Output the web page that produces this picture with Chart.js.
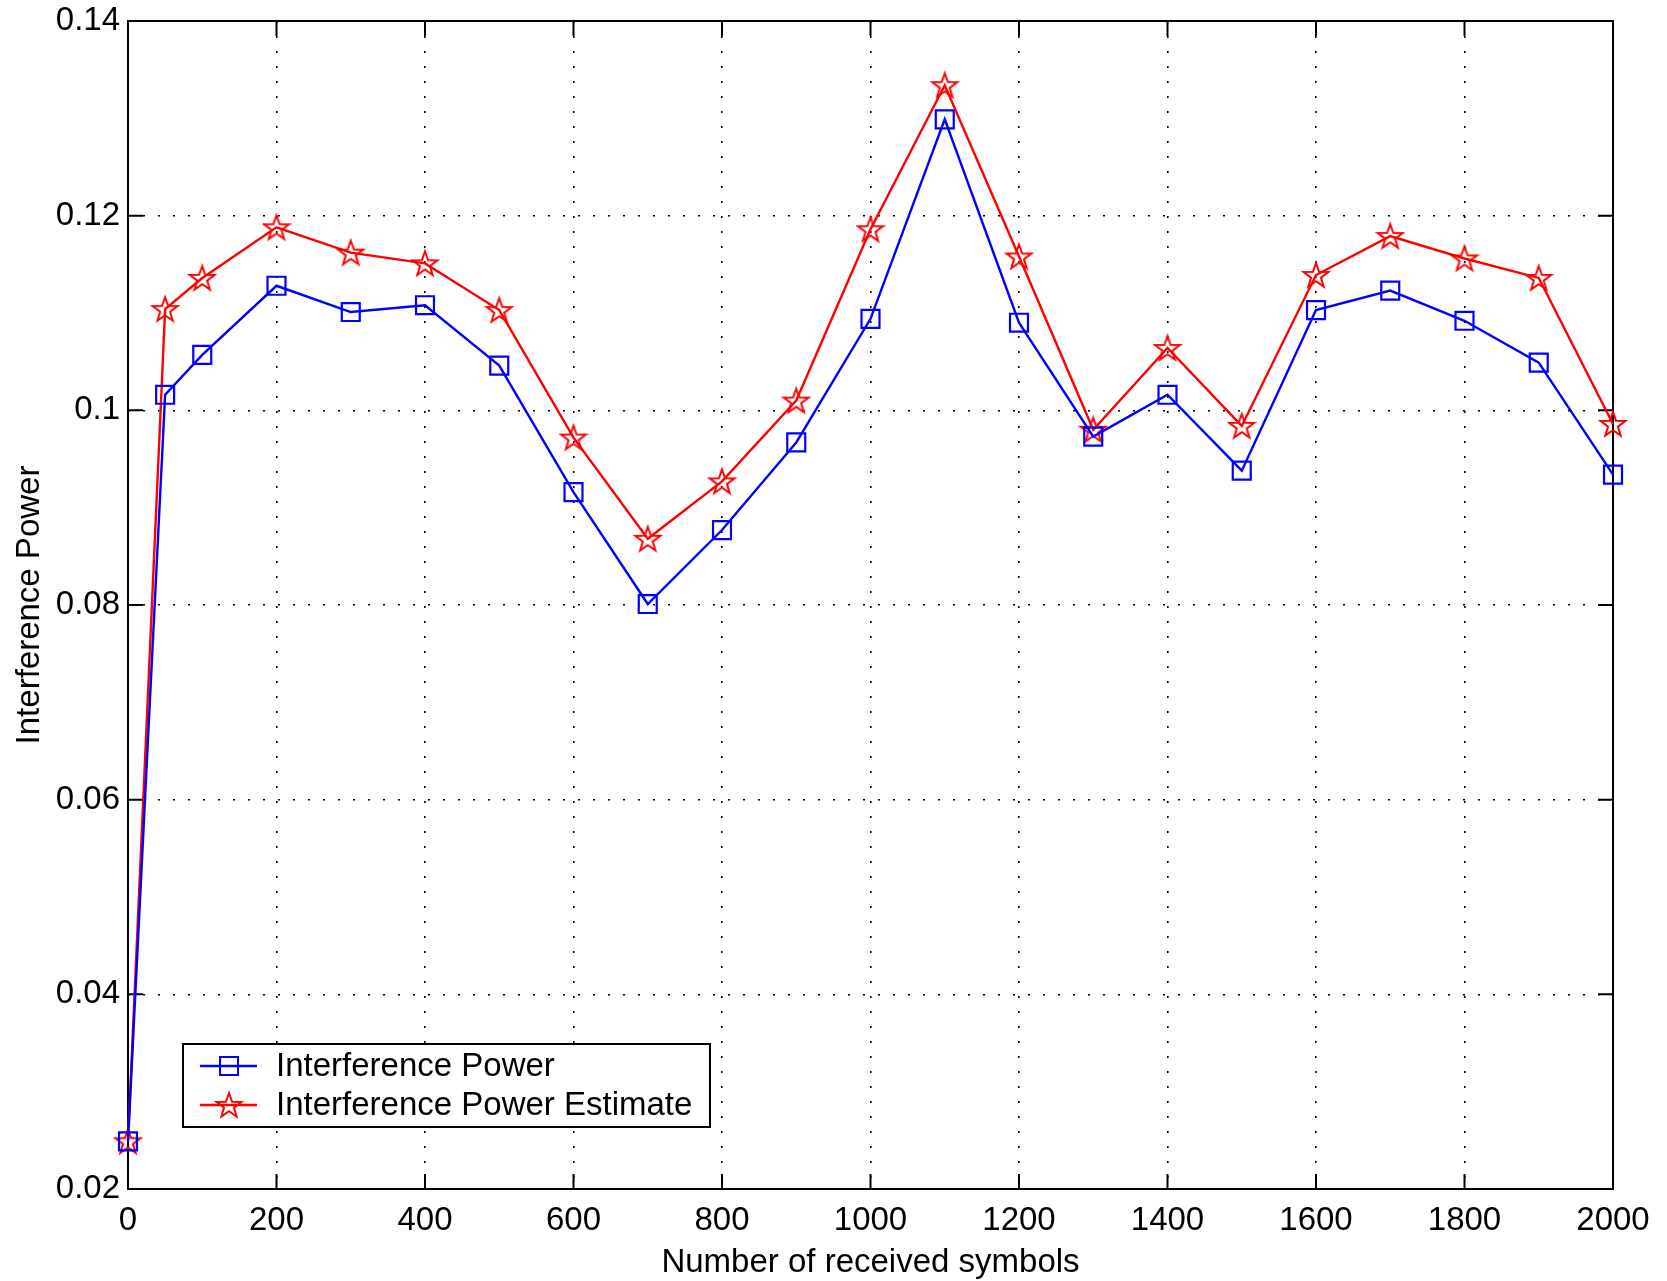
<!DOCTYPE html>
<html>
<head>
<meta charset="utf-8">
<script src="https://cdn.jsdelivr.net/npm/chart.js@4.4.0/dist/chart.umd.min.js"></script>
<style>
  body { margin: 0; background: #fff; }
  #wrap { width: 1667px; height: 1281px; }
</style>
</head>
<body>
<div id="wrap"><canvas id="grafico"></canvas></div>
<script>
// data
const simbolos = [0, 50, 100, 200, 300, 400, 500, 600, 700, 800, 900, 1000, 1100, 1200, 1300, 1400, 1500, 1600, 1700, 1800, 1900, 2000];
const potencia = [0.0249, 0.1016, 0.1057, 0.1128, 0.1101, 0.1108, 0.1046, 0.0916, 0.0801, 0.0877, 0.0967, 0.1094, 0.1299, 0.1090, 0.0973, 0.1016, 0.0938, 0.1103, 0.1123, 0.1092, 0.1049, 0.0934];
const estimativa = [0.0249, 0.1104, 0.1136, 0.1188, 0.1162, 0.1151, 0.1103, 0.0972, 0.0868, 0.0927, 0.1010, 0.1186, 0.1334, 0.1158, 0.0980, 0.1064, 0.0984, 0.1139, 0.1179, 0.1156, 0.1136, 0.0986];
const nomes = ['Interference Power', 'Interference Power Estimate'];
const xTicks = [0, 200, 400, 600, 800, 1000, 1200, 1400, 1600, 1800, 2000];
const yTicks = [0.02, 0.04, 0.06, 0.08, 0.1, 0.12, 0.14];

const FONTE = '"Liberation Sans", Arial, Helvetica, sans-serif';

// pentagram marker like matlab 'p'
function estrela(cor, R) {
  const c = document.createElement('canvas');
  const s = Math.ceil(R * 2 + 4);
  c.width = s; c.height = s;
  const g = c.getContext('2d');
  const r = R * 0.4;
  g.beginPath();
  for (let i = 0; i < 10; i++) {
    const ang = -Math.PI / 2 + i * Math.PI / 5;
    const rr = i % 2 === 0 ? R : r;
    const px = s / 2 + rr * Math.cos(ang), py = s / 2 + rr * Math.sin(ang) + R * 0.08;
    if (i === 0) g.moveTo(px, py); else g.lineTo(px, py);
  }
  g.closePath();
  g.strokeStyle = cor;
  g.lineWidth = 2;
  g.stroke();
  return c;
}
const starImg = estrela('#ff0000', 13);

const moldura = {
  id: 'moldura',
  beforeDatasetsDraw(chart) {
    const { ctx, chartArea: a, scales } = chart;
    ctx.save();
    ctx.strokeStyle = '#000';
    ctx.lineWidth = 2;
    ctx.strokeRect(a.left, a.top, a.right - a.left, a.bottom - a.top);
    const t = 15;
    ctx.beginPath();
    xTicks.forEach(v => {
      const px = scales.x.getPixelForValue(v);
      ctx.moveTo(px, a.bottom); ctx.lineTo(px, a.bottom - t);
      ctx.moveTo(px, a.top); ctx.lineTo(px, a.top + t);
    });
    yTicks.forEach(v => {
      const py = scales.y.getPixelForValue(v);
      ctx.moveTo(a.left, py); ctx.lineTo(a.left + t, py);
      ctx.moveTo(a.right, py); ctx.lineTo(a.right - t, py);
    });
    ctx.stroke();
    ctx.restore();
  },
  afterDraw(chart) {
    const ctx = chart.ctx;
    const bx = 183, by = 1044, bw = 527, bh = 83;
    ctx.save();
    ctx.fillStyle = '#fff';
    ctx.fillRect(bx, by, bw, bh);
    ctx.strokeStyle = '#000';
    ctx.lineWidth = 2;
    ctx.strokeRect(bx, by, bw, bh);
    const linhas = [{ y: 1066, cor: '#0000ff', tipo: 'rect' }, { y: 1105, cor: '#ff0000', tipo: 'star' }];
    ctx.font = '33px ' + FONTE;
    ctx.textBaseline = 'middle';
    linhas.forEach((l, i) => {
      ctx.strokeStyle = l.cor;
      ctx.lineWidth = 2.4;
      ctx.beginPath();
      ctx.moveTo(200, l.y); ctx.lineTo(257, l.y);
      ctx.stroke();
      if (l.tipo === 'rect') {
        ctx.lineWidth = 2;
        ctx.strokeRect(229 - 9, l.y - 9, 18, 18);
      } else {
        ctx.drawImage(starImg, 229 - starImg.width / 2, l.y - starImg.height / 2);
      }
      ctx.fillStyle = '#000';
      ctx.fillText(nomes[i], 276, l.y + 1);
    });
    ctx.restore();
  }
};

const ctx = document.getElementById('grafico').getContext('2d');
new Chart(ctx, {
  type: 'line',
  data: {
    datasets: [
      {
        label: nomes[0],
        data: simbolos.map((x, i) => ({ x: x, y: potencia[i] })),
        borderColor: '#0000ff',
        borderWidth: 2.4,
        pointStyle: 'rect',
        pointRadius: 12.7,
        pointBorderWidth: 2.2,
        pointBorderColor: '#0000ff',
        pointBackgroundColor: 'rgba(0,0,0,0)',
        tension: 0,
        fill: false,
        clip: false
      },
      {
        label: nomes[1],
        data: simbolos.map((x, i) => ({ x: x, y: estimativa[i] })),
        borderColor: '#ff0000',
        borderWidth: 2.4,
        pointStyle: starImg,
        pointRadius: 13,
        tension: 0,
        fill: false,
        clip: false
      }
    ]
  },
  options: {
    responsive: true,
    maintainAspectRatio: false,
    animation: false,
    layout: { padding: { left: 10, right: 54, top: 21, bottom: 0 } },
    plugins: { legend: { display: false }, tooltip: { enabled: false } },
    scales: {
      x: {
        type: 'linear',
        min: 0, max: 2000,
        afterBuildTicks: s => { s.ticks = xTicks.map(v => ({ value: v })); },
        afterFit: s => { s.height = 1281 - 1189; },
        ticks: { color: '#000', font: { family: FONTE, size: 33 }, padding: 12, maxRotation: 0, callback: v => String(v) },
        grid: { color: '#000', lineWidth: 1.6, drawTicks: false },
        border: { display: false, dash: [2, 13] },
        title: { display: true, text: 'Number of received symbols', color: '#000', font: { family: FONTE, size: 33 }, padding: { top: 0, bottom: -2 } }
      },
      y: {
        type: 'linear',
        min: 0.02, max: 0.14,
        afterBuildTicks: s => { s.ticks = yTicks.map(v => ({ value: v })); },
        afterFit: s => { s.width = 128 - 10; s.paddingTop = 0; s.paddingBottom = 0; },
        ticks: { color: '#000', font: { family: FONTE, size: 33 }, padding: 8, callback: v => String(Number(v.toFixed(2))) },
        grid: { color: '#000', lineWidth: 1.6, drawTicks: false },
        border: { display: false, dash: [2, 13] },
        title: { display: true, text: 'Interference Power', color: '#000', font: { family: FONTE, size: 33 }, padding: { top: 0, bottom: 2 } }
      }
    }
  },
  plugins: [moldura]
});
</script>
</body>
</html>
